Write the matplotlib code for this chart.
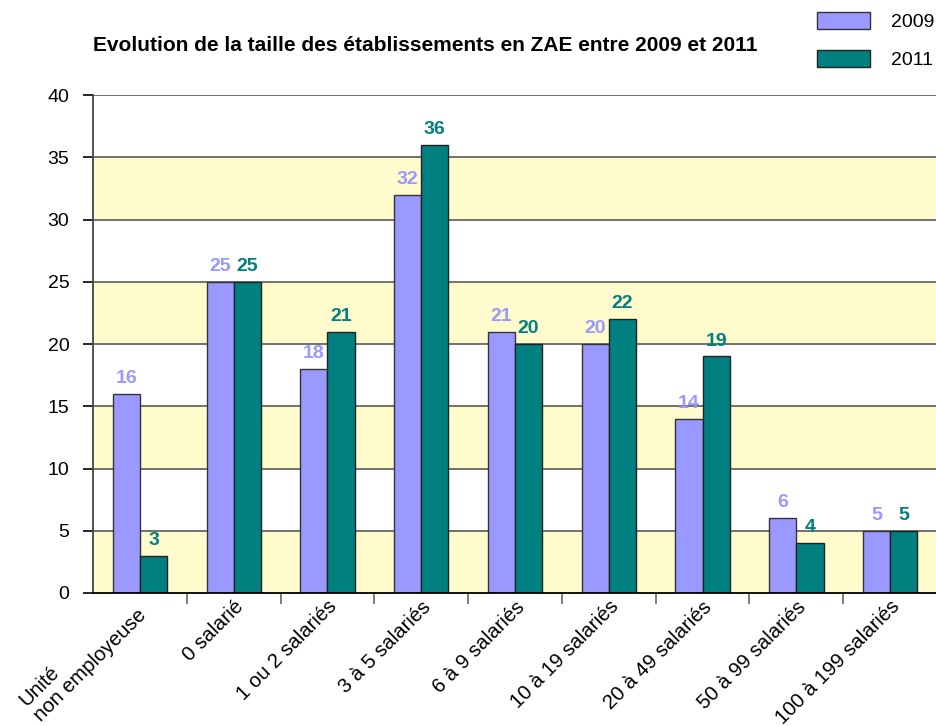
import matplotlib.pyplot as plt
import matplotlib.transforms as mtransforms
import numpy as np

plt.rcParams['font.family'] = ['Liberation Sans', 'DejaVu Sans']

# Données
categories = ['Unité\nnon employeuse', '0 salarié', '1 ou 2 salariés', '3 à 5 salariés',
              '6 à 9 salariés', '10 à 19 salariés', '20 à 49 salariés',
              '50 à 99 salariés', '100 à 199 salariés']
val_2009 = [16, 25, 18, 32, 21, 20, 14, 6, 5]
val_2011 = [3, 25, 21, 36, 20, 22, 19, 4, 5]
years = ['2009', '2011']

col_2009 = '#9999FF'
col_2011 = '#008080'
band = '#FFFBCC'


def main():
    fig = plt.figure(figsize=(9.37, 7.26), dpi=100)
    ax = fig.add_axes([0.0993, 0.1832, 0.9007, 0.6859])

    x = np.arange(len(categories))
    w = 0.29

    # bandes alternées
    for y0 in range(0, 40, 10):
        ax.axhspan(y0, y0 + 5, color=band, zorder=0, lw=0)
    for y in range(5, 45, 5):
        ax.axhline(y, color='#666666', lw=1.3, zorder=1)

    b1 = ax.bar(x - w / 2, val_2009, w, color=col_2009, edgecolor='#333333', lw=1, zorder=2, label=years[0])
    b2 = ax.bar(x + w / 2, val_2011, w, color=col_2011, edgecolor='#222222', lw=1, zorder=2, label=years[1])

    for xi, v in zip(x, val_2009):
        ax.annotate(str(v), (xi - w / 2, v), xytext=(0, 5), textcoords='offset points',
                    ha='center', va='bottom', color=col_2009, fontsize=14, fontweight='bold')
    for xi, v in zip(x, val_2011):
        ax.annotate(str(v), (xi + w / 2, v), xytext=(0, 5), textcoords='offset points',
                    ha='center', va='bottom', color=col_2011, fontsize=14, fontweight='bold')

    ax.set_xlim(-0.5, len(categories) - 0.5)
    ax.set_ylim(0, 40)
    ax.set_yticks(range(0, 45, 5))
    ax.tick_params(axis='y', labelsize=14, length=7, width=1.2, pad=10)

    ax.set_xticks(x)
    labels = ax.set_xticklabels(categories, rotation=45, ha='right', rotation_mode='anchor',
                                fontsize=14.7, multialignment='left', linespacing=1.15)
    ax.tick_params(axis='x', length=0, pad=3)
    ax.set_xticks(np.arange(0.5, len(categories) - 0.5, 1), minor=True)
    ax.tick_params(axis='x', which='minor', length=8, width=1.2, color='#666666')

    # l'étiquette sur deux lignes remonte un peu, comme dans l'original
    shift = mtransforms.ScaledTranslation(-0.18, 0.07, fig.dpi_scale_trans)
    labels[0].set_transform(labels[0].get_transform() + shift)

    for s in ['top', 'right']:
        ax.spines[s].set_visible(False)
    ax.spines['left'].set_linewidth(1.3)
    ax.spines['left'].set_color('#444444')
    ax.spines['bottom'].set_linewidth(1.3)

    fig.text(93 / 937, 1 - 51 / 726, 'Evolution de la taille des établissements en ZAE entre 2009 et 2011',
             fontsize=15, fontweight='bold', ha='left', va='baseline')

    fig.legend(handles=[b1, b2], labels=years, loc='upper left',
               bbox_to_anchor=(817 / 937, 1 - 12 / 726), borderpad=0, borderaxespad=0,
               frameon=False, fontsize=14, handlelength=2.73, handleheight=1.0,
               labelspacing=0.95, handletextpad=1.1)

    fig.savefig('out.png', dpi=100)


if __name__ == '__main__':
    main()
